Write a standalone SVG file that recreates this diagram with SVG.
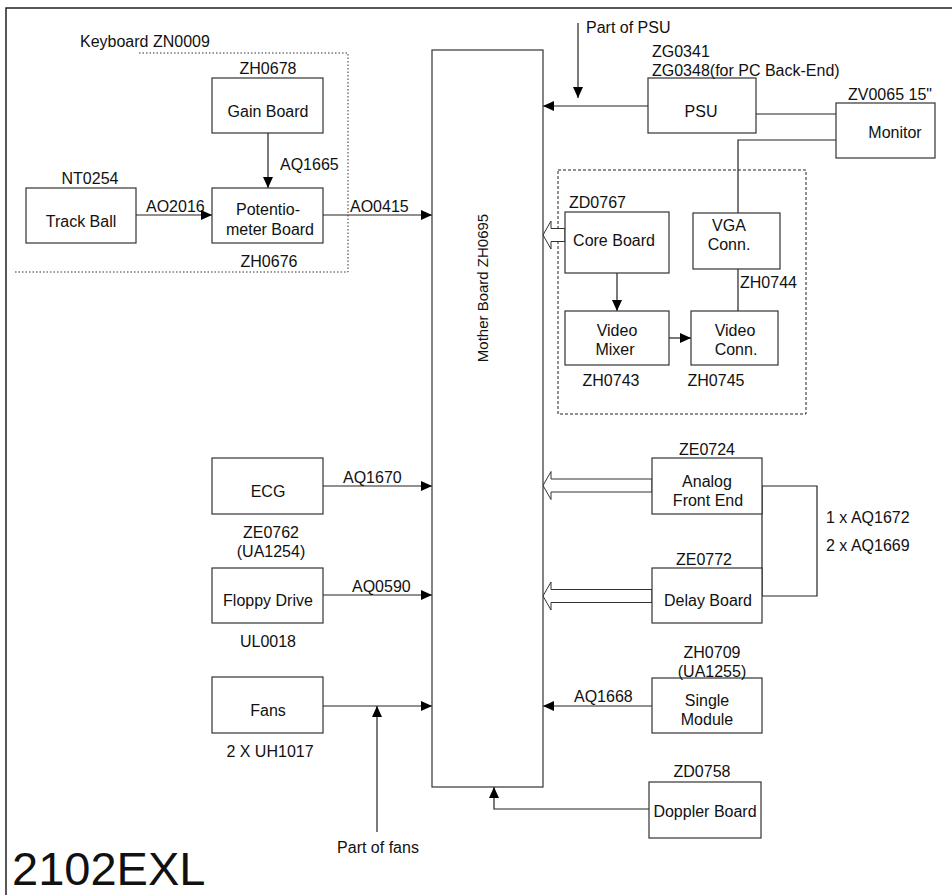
<svg xmlns="http://www.w3.org/2000/svg" width="952" height="895" viewBox="0 0 952 895">
<style>
text{font-family:"Liberation Sans",Arial,sans-serif;font-size:16px;fill:#111}
.c{text-anchor:middle}
.box{fill:#fff;stroke:#333;stroke-width:1.2}
.ln{fill:none;stroke:#222;stroke-width:1.2}
.hol{fill:#fff;stroke:#333;stroke-width:1}
</style>
<defs>
<marker id="ah" viewBox="0 0 11 10" refX="11" refY="5" markerWidth="11" markerHeight="10" markerUnits="userSpaceOnUse" orient="auto">
<path d="M0,0 L11,5 L0,10 z" fill="#000"/>
</marker>
</defs>
<rect width="952" height="895" fill="#fff"/>
<path d="M6,895 V8 H952" fill="none" stroke="#222" stroke-width="1.5"/>
<g id="keyboard-group">
<polyline points="15,272 348,272 348,53 138,53" fill="none" stroke="#333" stroke-width="1" stroke-dasharray="1.5 2"/>
<text x="80" y="47">Keyboard ZN0009</text>
</g>
<g id="core-group">
<rect x="558" y="170" width="248" height="244" fill="none" stroke="#222" stroke-width="1" stroke-dasharray="3 2"/>
</g>
<g id="connectors">
<line class="ln" x1="268" y1="133" x2="268" y2="188" marker-end="url(#ah)"/>
<line class="ln" x1="136" y1="215" x2="212" y2="215" marker-end="url(#ah)"/>
<line class="ln" x1="323" y1="215" x2="432" y2="215" marker-end="url(#ah)"/>
<line class="ln" x1="578" y1="23" x2="578" y2="98" marker-end="url(#ah)"/>
<line class="ln" x1="648" y1="106" x2="543" y2="106" marker-end="url(#ah)"/>
<line class="ln" x1="756" y1="114" x2="836" y2="114"/>
<polyline class="ln" points="836,140 738,140 738,213"/>
<line class="ln" x1="738" y1="269" x2="738" y2="311"/>
<line class="ln" x1="617" y1="273" x2="617" y2="311" marker-end="url(#ah)"/>
<line class="ln" x1="669" y1="338" x2="691" y2="338" marker-end="url(#ah)"/>
<polygon class="hol" points="565,228.5 551,228.5 551,221 543,235 551,249 551,241.5 565,241.5"/>
<line class="ln" x1="323" y1="486" x2="432" y2="486" marker-end="url(#ah)"/>
<line class="ln" x1="323" y1="595" x2="432" y2="595" marker-end="url(#ah)"/>
<line class="ln" x1="323" y1="706" x2="432" y2="706" marker-end="url(#ah)"/>
<line class="ln" x1="377" y1="832" x2="377" y2="706" marker-end="url(#ah)"/>
<polygon class="hol" points="652,479 551,479 551,471.5 543,485.5 551,499.5 551,492 652,492"/>
<polygon class="hol" points="652,589.5 551,589.5 551,582 543,596 551,610 551,602.5 652,602.5"/>
<path class="ln" d="M762,486 H817 V596 H762 Z"/>
<line class="ln" x1="652" y1="706" x2="543" y2="706" marker-end="url(#ah)"/>
<polyline class="ln" points="649,809 494,809 494,787" marker-end="url(#ah)"/>
</g>
<g id="motherboard">
<rect class="box" x="432" y="50" width="111" height="737"/>
<text class="c" transform="translate(488,288) rotate(-90)" style="font-size:15px">Mother Board ZH0695</text>
</g>
<g id="gain-board">
<rect class="box" x="212" y="78" width="111" height="55"/>
<text class="c" x="268" y="74">ZH0678</text>
<text class="c" x="268" y="117">Gain Board</text>
</g>
<text x="280" y="170">AQ1665</text>
<g id="track-ball">
<rect class="box" x="26" y="188" width="110" height="55"/>
<text class="c" x="90" y="184">NT0254</text>
<text class="c" x="81" y="227">Track Ball</text>
</g>
<text x="146" y="212">AO2016</text>
<g id="potentiometer-board">
<rect class="box" x="212" y="188" width="111" height="55"/>
<text class="c" x="268" y="215">Potentio-</text>
<text class="c" x="270" y="235">meter Board</text>
<text class="c" x="269" y="267">ZH0676</text>
</g>
<text x="350" y="212">AO0415</text>
<text x="586" y="33">Part of PSU</text>
<g id="psu">
<rect class="box" x="648" y="78" width="108" height="55"/>
<text x="652" y="57">ZG0341</text>
<text x="652" y="76">ZG0348(for PC Back-End)</text>
<text class="c" x="701" y="117">PSU</text>
</g>
<g id="monitor">
<rect class="box" x="836" y="103" width="99" height="55"/>
<text x="848" y="100">ZV0065 15"</text>
<text class="c" x="895" y="138">Monitor</text>
</g>
<g id="core-board">
<rect class="box" x="565" y="212" width="104" height="61"/>
<text x="569" y="208">ZD0767</text>
<text class="c" x="614" y="246">Core Board</text>
</g>
<g id="vga-conn">
<rect class="box" x="693" y="213" width="87" height="56"/>
<text class="c" x="729" y="231">VGA</text>
<text class="c" x="729" y="250">Conn.</text>
</g>
<text x="740" y="288">ZH0744</text>
<g id="video-mixer">
<rect class="box" x="565" y="311" width="104" height="54"/>
<text class="c" x="617" y="336">Video</text>
<text class="c" x="615" y="355">Mixer</text>
<text class="c" x="611" y="386">ZH0743</text>
</g>
<g id="video-conn">
<rect class="box" x="691" y="311" width="87" height="54"/>
<text class="c" x="735" y="336">Video</text>
<text class="c" x="736" y="355">Conn.</text>
<text class="c" x="716" y="386">ZH0745</text>
</g>
<g id="ecg">
<rect class="box" x="212" y="458" width="111" height="56"/>
<text class="c" x="268" y="497">ECG</text>
<text class="c" x="271" y="538">ZE0762</text>
<text class="c" x="271" y="557">(UA1254)</text>
</g>
<text x="343" y="483">AQ1670</text>
<g id="floppy-drive">
<rect class="box" x="212" y="568" width="111" height="55"/>
<text class="c" x="268" y="606">Floppy Drive</text>
<text class="c" x="268" y="647">UL0018</text>
</g>
<text x="352" y="592">AQ0590</text>
<g id="fans">
<rect class="box" x="212" y="677" width="111" height="56"/>
<text class="c" x="268" y="716">Fans</text>
<text class="c" x="270" y="757">2 X UH1017</text>
</g>
<text class="c" x="378" y="853">Part of fans</text>
<g id="analog-front-end">
<rect class="box" x="652" y="458" width="110" height="56"/>
<text class="c" x="707" y="455">ZE0724</text>
<text class="c" x="707" y="487">Analog</text>
<text class="c" x="708" y="506">Front End</text>
</g>
<text x="826" y="523">1 x AQ1672</text>
<text x="826" y="551">2 x AQ1669</text>
<g id="delay-board">
<rect class="box" x="652" y="568" width="110" height="55"/>
<text class="c" x="704" y="565">ZE0772</text>
<text class="c" x="708" y="606">Delay Board</text>
</g>
<g id="single-module">
<rect class="box" x="652" y="678" width="110" height="55"/>
<text class="c" x="712" y="658">ZH0709</text>
<text class="c" x="712" y="677">(UA1255)</text>
<text class="c" x="707" y="706">Single</text>
<text class="c" x="707" y="725">Module</text>
</g>
<text x="574" y="702">AQ1668</text>
<g id="doppler-board">
<rect class="box" x="649" y="782" width="112" height="56"/>
<text class="c" x="702" y="777">ZD0758</text>
<text class="c" x="705" y="817">Doppler Board</text>
</g>
<text x="12" y="885" style="font-size:47px">2102EXL</text>
</svg>
